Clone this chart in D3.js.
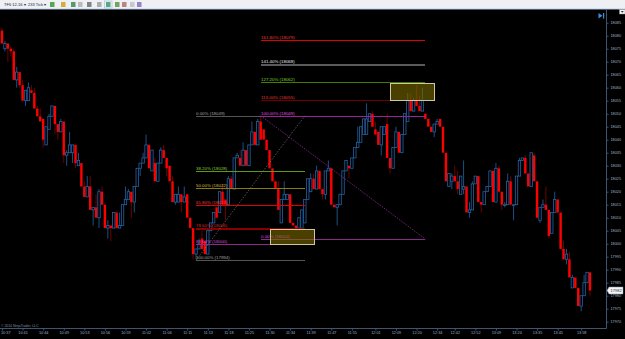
<!DOCTYPE html>
<html>
<head>
<meta charset="utf-8">
<script src="https://cdn.jsdelivr.net/npm/d3@7"></script>
<style>
body { margin:0; background:#000; overflow:hidden; }
svg { display:block; }
text { font-family:"Liberation Sans", Arial, sans-serif; }
</style>
</head>
<body>
<div id="chart"></div>
<script>
// 233 tick candles
var opens  = [18082,18075,18077,18075,18074,18063,18066,18061,18055,18055,18059,18058,18052,18049,18048,18038,18044,18049,18053,18046,
              18043,18047,18034,18035,18035,18038,18030,18031,18022,18018,18022,18013,18014,18010,18020,18015,18006,18007,18006,18012,
              18006,18007,18015,18017,18020,18016,18022,18029,18031,18033,18038,18028,18031,18024,18031,18036,18033,18030,18024,18016,
              18016,18019,18016,18019,18010,18006,17996,17998,18002,18001,17996,18005,18008,18014,18012,18020,18017,18015,18025,18021,
              18033,18033,18030,18036,18030,18038,18043,18038,18047,18044,18040,18036,18029,18024,18021,18008,18017,18017,18019,18008,
              18007,18006,18006,18008,18017,18020,18025,18021,18028,18021,18019,18028,18029,18015,18014,18015,18019,18028,18030,18029,
              18033,18037,18039,18042,18042,18047,18050,18044,18043,18038,18042,18046,18033,18029,18037,18043,18035,18042,18047,18055,
              18051,18055,18053,18051,18050,18048,18045,18043,18046,18048,18045,18035,18022,18024,18026,18024,18019,18021,18022,18012,
              18013,18023,18026,18016,18015,18020,18022,18028,18016,18029,18020,18015,18015,18024,18015,18015,18026,18032,18033,18027,
              18022,18034,18024,18009,18014,18015,18013,18004,18012,18017,18012,17998,17994,17994,17983,17987,17983,17976,17980,17985,
              17989];
var highs  = [18083,18078,18077,18076,18075,18068,18066,18063,18059,18062,18061,18060,18053,18052,18048,18045,18050,18053,18053,18046,
              18048,18047,18036,18043,18038,18038,18035,18031,18024,18026,18026,18014,18019,18021,18022,18015,18009,18007,18012,18012,
              18012,18015,18022,18021,18020,18022,18029,18031,18035,18042,18038,18036,18033,18031,18037,18038,18033,18030,18026,18019,
              18022,18019,18022,18019,18010,18006,17998,18002,18005,18001,18005,18008,18012,18014,18020,18023,18017,18026,18026,18033,
              18035,18036,18039,18036,18038,18047,18043,18048,18049,18044,18040,18036,18029,18024,18024,18017,18024,18019,18019,18008,
              18007,18010,18013,18017,18025,18027,18027,18030,18028,18021,18028,18032,18029,18015,18015,18019,18028,18032,18030,18033,
              18037,18045,18045,18048,18054,18050,18051,18047,18043,18045,18045,18050,18033,18037,18045,18043,18042,18050,18058,18058,
              18056,18061,18057,18060,18050,18048,18045,18046,18048,18048,18045,18035,18027,18027,18030,18028,18026,18032,18022,18016,
              18024,18026,18026,18016,18020,18022,18028,18028,18031,18030,18020,18016,18027,18026,18015,18026,18033,18033,18034,18027,
              18035,18035,18024,18014,18017,18022,18013,18012,18020,18017,18012,18001,17998,17997,17988,17987,17983,17980,17988,17989,
              17989];
var lows   = [18077,18074,18070,18072,18063,18060,18060,18055,18053,18055,18058,18052,18049,18047,18037,18038,18044,18049,18042,18040,
              18043,18031,18030,18035,18031,18029,18030,18022,18018,18018,18013,18007,18010,18006,18015,18006,18002,18001,18006,18006,
              18006,18007,18015,18017,18010,18012,18022,18026,18031,18033,18029,18028,18024,18024,18031,18033,18026,18024,18016,18015,
              18016,18012,18016,18010,18006,17994,17994,17998,17998,17996,17996,18005,18008,18010,18012,18015,18009,18015,18021,18021,
              18033,18030,18030,18030,18030,18038,18038,18038,18040,18040,18036,18029,18024,18021,18013,18008,18017,18017,18008,18007,
              18005,18006,18006,18008,18017,18020,18021,18021,18021,18017,18017,18028,18015,18014,18007,18015,18019,18028,18025,18029,
              18033,18037,18039,18042,18042,18047,18045,18042,18038,18034,18042,18033,18027,18029,18037,18035,18035,18042,18047,18051,
              18051,18053,18051,18051,18048,18045,18043,18041,18046,18045,18035,18024,18022,18021,18024,18019,18019,18019,18012,18010,
              18013,18023,18016,18012,18015,18020,18022,18016,18016,18020,18013,18014,18015,18015,18009,18015,18026,18032,18027,18022,
              18022,18024,18010,18008,18014,18013,18002,18004,18012,18012,17998,17994,17992,17987,17983,17983,17976,17974,17980,17985,
              17980];
var closes = [18077,18077,18075,18074,18063,18066,18061,18055,18059,18060,18058,18052,18049,18047,18040,18045,18049,18053,18046,18043,
              18047,18034,18035,18038,18038,18031,18032,18022,18018,18022,18013,18014,18010,18020,18015,18006,18007,18006,18012,18006,
              18007,18015,18017,18020,18016,18022,18029,18031,18033,18038,18029,18036,18024,18031,18036,18033,18029,18024,18016,18019,
              18019,18016,18018,18010,18006,17996,17998,18000,17998,17996,18005,18008,18012,18010,18020,18015,18015,18025,18021,18033,
              18034,18030,18036,18030,18038,18043,18038,18047,18040,18040,18036,18029,18024,18021,18013,18017,18019,18019,18008,18007,
              18006,18010,18013,18017,18025,18025,18021,18028,18021,18019,18028,18029,18015,18014,18015,18019,18028,18032,18029,18033,
              18037,18039,18045,18048,18048,18050,18045,18042,18038,18045,18045,18033,18029,18037,18043,18035,18042,18050,18055,18051,
              18055,18053,18051,18055,18048,18045,18043,18046,18047,18045,18035,18024,18027,18026,18024,18021,18026,18022,18012,18013,
              18023,18026,18016,18015,18020,18022,18028,18016,18029,18020,18015,18015,18024,18015,18015,18026,18032,18033,18027,18022,
              18035,18024,18010,18014,18015,18013,18003,18012,18017,18012,17998,17994,17996,17987,17987,17983,17976,17980,17985,17989,
              17982];

var timeLabels = ["10:37","10:41","10:44","10:49","10:53","10:56","10:59","11:02","11:06","11:11","11:13","11:18","11:25","11:30","11:34",
                  "11:39","11:47","11:55","12:01","12:09","12:20","12:34","12:42","12:52","13:09","13:24","13:35","13:45","13:58"];
var timeIdx = [0,7,14,21,28,35,42,49,56,63,70,77,84,91,98,105,112,119,127,134,141,148,154,161,168,175,182,189,197];
var priceTicks = [17970,17975,17980,17985,17990,17995,18000,18005,18010,18015,18020,18025,18030,18035,18040,18045,
                  18050,18055,18060,18065,18070,18075,18080,18085];

// fibonacci retracement (anchors) and extension (anchors)
var retrAnchor = {i0:66, i1:103, p0:18049.2, p100:17993.6};
var retrPct    = [0, 0.382, 0.5, 0.618, 0.786, 0.886, 1];
var retrText   = ["0.00% (18049)","38.20% (18028)","50.00% (18022)","61.80% (18015)","78.60% (18006)","88.60% (18000)","100.00% (17994)"];
var retrLine   = ["#555555","#5c9a14","#8a7a10","#e00000","#8a0000","#8a2a8a","#555555"];
var retrLabel  = ["#a0a0a0","#96cc3c","#d0bc36","#ff3a3a","#dd2626","#d84ad8","#a0a0a0"];
var retrWidth  = [1,1,1,1,2,1,1];

var extAnchor = {i0:88, i1:144, p0:18001.8, p100:18049.2};
var extPct    = [0, 1, 1.13, 1.272, 1.414, 1.618];
var extText   = ["0.00% (18002)","100.00% (18049)","113.00% (18055)","127.20% (18062)","141.40% (18068)","161.80% (18079)"];
var extLine   = ["#8a2a8a","#9a229a","#700000","#3f7f00","#5a5a5a","#e00000"];
var extLabel  = ["#d84ad8","#e050e0","#ee3030","#80d826","#eeeeee","#f03434"];
var extWidth  = [1,1,1,1,2,1];

var boxes = [{i0:91, i1:106, top:18005.5, bot:18000},{i0:132, i1:147, top:18061.8, bot:18055.2}];

var W = 625, H = 339;
var svg = d3.select("#chart").append("svg").attr("width", W).attr("height", H);
svg.append("rect").attr("width", W).attr("height", H).attr("fill", "#000");

var x = d3.scaleLinear().domain([0, 200]).range([2, 590]);
var y = d3.scaleLinear().domain([17970, 18085]).range([321.7, 22.7]);
var crisp = function(v, w){ return (w % 2 == 1) ? Math.round(v) + 0.5 : Math.round(v); };

svg.append("clipPath").attr("id", "plot").append("rect").attr("x", 0).attr("y", 10).attr("width", 606).attr("height", 318);
var plot = svg.append("g").attr("clip-path", "url(#plot)");

// candles
var idx = d3.range(closes.length);
var up = function(i){ return closes[i] >= opens[i]; };
var bTop = function(i){ return y(Math.max(opens[i], closes[i])); };
var bBot = function(i){ return Math.max(y(Math.min(opens[i], closes[i])), bTop(i) + 0.8); };

plot.append("g").selectAll("line").data(idx).join("line")
    .attr("x1", function(i){ return x(i); }).attr("x2", function(i){ return x(i); })
    .attr("y1", function(i){ return y(highs[i]); }).attr("y2", bTop)
    .attr("stroke", function(i){ return up(i) ? "#2563a6" : "#8b0000"; }).attr("stroke-width", 0.8);
plot.append("g").selectAll("line").data(idx).join("line")
    .attr("x1", function(i){ return x(i); }).attr("x2", function(i){ return x(i); })
    .attr("y1", bBot).attr("y2", function(i){ return y(lows[i]); })
    .attr("stroke", function(i){ return up(i) ? "#2563a6" : "#8b0000"; }).attr("stroke-width", 0.8);
plot.append("g").selectAll("rect").data(idx).join("rect")
    .attr("x", function(i){ return x(i) - 1.2; }).attr("width", 2.4)
    .attr("y", bTop).attr("height", function(i){ return bBot(i) - bTop(i); })
    .attr("fill", function(i){ return up(i) ? "#000" : "#ff0000"; })
    .attr("stroke", function(i){ return up(i) ? "#2563a6" : "none"; })
    .attr("stroke-width", 0.8);

// drawing tools
var fib = plot.append("g");
var drawFib = function(a, pct, txt, lc, tc, lw) {
    pct.forEach(function(p, k) {
        var py = crisp(y(a.p0 + (a.p100 - a.p0) * p), lw[k]);
        fib.append("line").attr("x1", Math.round(x(a.i0))).attr("x2", Math.round(x(a.i1))).attr("y1", py).attr("y2", py)
            .attr("stroke", lc[k]).attr("stroke-width", lw[k]).attr("shape-rendering", "crispEdges");
        fib.append("text").attr("x", Math.round(x(a.i0))).attr("y", py - 1.8).attr("font-size", 4.4)
            .attr("fill", tc[k]).text(txt[k]);
    });
};
drawFib(retrAnchor, retrPct, retrText, retrLine, retrLabel, retrWidth);
drawFib(extAnchor, extPct, extText, extLine, extLabel, extWidth);

fib.append("line").attr("x1", x(retrAnchor.i0)).attr("y1", y(retrAnchor.p100))
    .attr("x2", x(retrAnchor.i1)).attr("y2", y(retrAnchor.p0))
    .attr("stroke", "#8a8a8a").attr("stroke-width", 0.6).attr("stroke-dasharray", "1.5,1.5");
fib.append("line").attr("x1", x(extAnchor.i0)).attr("y1", y(extAnchor.p100))
    .attr("x2", x(extAnchor.i1)).attr("y2", y(extAnchor.p0))
    .attr("stroke", "#a030a0").attr("stroke-width", 0.7).attr("stroke-dasharray", "1.5,1.2");

fib.selectAll("rect").data(boxes).join("rect")
    .attr("x", function(b){ return Math.round(x(b.i0)) + 0.5; })
    .attr("width", function(b){ return Math.round(x(b.i1)) - Math.round(x(b.i0)); })
    .attr("y", function(b){ return Math.round(y(b.top)) + 0.5; })
    .attr("height", function(b){ return Math.round(y(b.bot)) - Math.round(y(b.top)); })
    .attr("fill", "#7a6a00").attr("fill-opacity", 0.6)
    .attr("stroke", "#cfc6a8").attr("stroke-width", 1);

// price axis
var ya = svg.append("g").attr("transform", "translate(606.5,0)")
    .call(d3.axisRight(y).tickValues(priceTicks).tickSize(2).tickPadding(2).tickFormat(d3.format("d")));
ya.select(".domain").remove();
ya.selectAll("line").attr("stroke", "#3d5570");
ya.selectAll("text").attr("fill", "#9fb2c6").attr("font-size", 3.8).attr("font-family", "Liberation Sans, Arial, sans-serif");
svg.append("line").attr("x1", 606.5).attr("x2", 606.5).attr("y1", 10).attr("y2", 328.5)
    .attr("stroke", "#3d5570").attr("stroke-width", 1);

// time axis
var xa = svg.append("g").attr("transform", "translate(0,328.5)")
    .call(d3.axisBottom(x).tickValues(timeIdx).tickSize(2).tickPadding(1)
        .tickFormat(function(d, k){ return timeLabels[k]; }));
xa.select(".domain").remove();
xa.selectAll("line").attr("stroke", "#3d5570");
xa.selectAll("text").attr("fill", "#9fb2c6").attr("font-size", 3.8).attr("font-family", "Liberation Sans, Arial, sans-serif");
xa.selectAll("text").filter(function(d, k){ return k == 0; }).attr("text-anchor", "start").attr("dx", -1.5);
svg.append("line").attr("x1", 0).attr("x2", 606.5).attr("y1", 328.5).attr("y2", 328.5)
    .attr("stroke", "#3d5570").attr("stroke-width", 1);

svg.append("text").attr("x", 1).attr("y", 326.5).attr("font-size", 3.4).attr("fill", "#7f93a8")
    .text("\u00a9 2014 NinjaTrader, LLC");

// last price marker
var lp = closes[closes.length - 1];
svg.append("path").attr("d", "M607," + y(lp) + " l2,-3.5 h14 v7 h-14 z")
    .attr("fill", "#f4f4f4").attr("stroke", "#7f93a8").attr("stroke-width", 0.5);
svg.append("text").attr("x", 610.5).attr("y", y(lp) + 1.5).attr("font-size", 4).attr("fill", "#1a2a3a").text(d3.format("d")(lp));

// toolbar
svg.append("rect").attr("width", W).attr("height", 9).attr("fill", "#eef0f3");
svg.append("line").attr("x1", 0).attr("x2", W).attr("y1", 9.2).attr("y2", 9.2).attr("stroke", "#8fb0d4").attr("stroke-width", 0.8);
svg.append("text").attr("x", 4).attr("y", 6.3).attr("font-size", 4).attr("fill", "#223").text("TF6 12-16 \u25be");
svg.append("text").attr("x", 28).attr("y", 6.3).attr("font-size", 4).attr("fill", "#223").text("233 Tick \u25be");
var icons = ["#3a9a3a","#d0a020","#3a8a5a","#b0b0b0","#707070","#a0a0a0","#3aa060","#5a9a3a","#b07070","#c0c0c8","#8a70c0"];
var iconX = [50, 61, 71, 78, 87, 97, 106, 115, 122, 130, 137];
svg.append("g").selectAll("rect").data(iconX).join("rect")
    .attr("x", function(d){ return d; }).attr("y", 2).attr("width", 4.5).attr("height", 5)
    .attr("fill", function(d, k){ return icons[k]; }).attr("opacity", 0.85);
svg.append("rect").attr("x", 104.5).attr("y", 1).attr("width", 7.5).attr("height", 7).attr("fill", "none")
    .attr("stroke", "#9cc0e8").attr("stroke-width", 0.6);

svg.append("path").attr("d", "M598.5,13 l4,2.8 l-4,2.8 z").attr("fill", "#3d8fd8");
svg.append("rect").attr("x", 603).attr("y", 13).attr("width", 1.2).attr("height", 5.6).attr("fill", "#3d8fd8");
svg.append("rect").attr("x", 619.5).attr("y", 9.5).attr("width", 5.5).attr("height", 4.5).attr("fill", "#f4f4f4").attr("stroke", "#999").attr("stroke-width", 0.4);
svg.append("path").attr("d", "M620.8,11 h3 l-1.5,1.8 z").attr("fill", "#333");
</script>
</body>
</html>
